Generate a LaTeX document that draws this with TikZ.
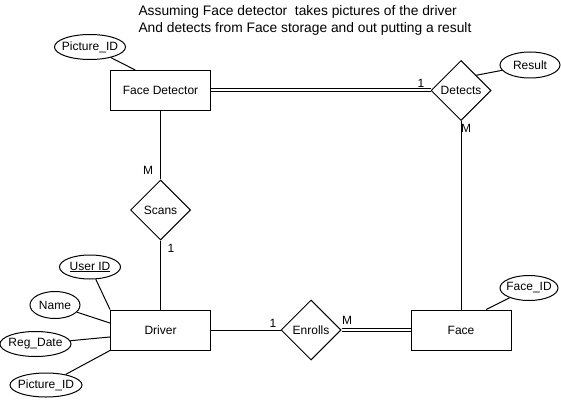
\documentclass[tikz,border=0pt]{standalone}
\usepackage{fontspec}
\setmainfont{Liberation Sans}
\usetikzlibrary{shapes.geometric,calc}
\begin{document}
\begin{tikzpicture}
  [x=1pt, y=-1pt, line width=1pt, font=\fontsize{12}{14}\selectfont,
   entity/.style={draw, rectangle, minimum width=100pt, minimum height=40pt, inner sep=0pt},
   relation/.style={draw, diamond, aspect=1, minimum width=60pt, minimum height=60pt, inner sep=0pt},
   attrib/.style={draw, ellipse, inner sep=0pt},
   card/.style={inner sep=0pt},
   twin/.style={double, double distance=2pt}]
  \useasboundingbox (0,0) rectangle (561,401);
  \node[anchor=north west, align=left, inner sep=0pt, font=\fontsize{13.8}{17}\selectfont] (note) at (138,5)
    {Assuming Face detector\ \ takes pictures of the driver\\And detects from Face storage and out putting a result};
  \node[entity] (fd) at (160.5,90.5) {Face Detector};
  \node[entity] (drv) at (160.5,330) {Driver};
  \node[entity] (face) at (461,330) {Face};
  \node[relation] (det) at (461,90.5) {Detects};
  \node[relation] (scn) at (160.5,210) {Scans};
  \node[relation] (enr) at (311,330) {Enrolls};
  \node[attrib, minimum width=71pt, minimum height=25pt, label=center:Picture\_ID] (fdpic) at (90,47) {};
  \node[attrib, minimum width=60pt, minimum height=26pt, label=center:Result] (res) at (530,65) {};
  \node[attrib, minimum width=58pt, minimum height=25pt, label=center:Face\_ID] (fid) at (529,288) {};
  \node[attrib, minimum width=61pt, minimum height=24pt, label=center:\underline{User ID}] (uid) at (90,267) {};
  \node[attrib, minimum width=50pt, minimum height=27pt, label=center:Name] (name) at (55,305) {};
  \node[attrib, minimum width=71pt, minimum height=25pt, label=center:Reg\_Date] (reg) at (35.5,344) {};
  \node[attrib, minimum width=72pt, minimum height=24pt, label=center:Picture\_ID] (drvpic) at (46,385) {};
  \draw[twin] (fd) -- (det);
  \draw (det) -- (face);
  \draw (fd) -- (scn);
  \draw (scn) -- (drv);
  \draw (drv) -- (enr);
  \draw[twin] (enr) -- (face);
  \draw (det.north east) -- (res);
  \draw (fdpic) -- ($(fd.north west)!0.25!(fd.north east)$);
  \draw (fid) -- ($(face.north west)!0.75!(face.north east)$);
  \draw (uid) -- (drv.north west);
  \draw (name) -- ($(drv.north west)!0.33!(drv.south west)$);
  \draw (reg) -- ($(drv.north west)!0.67!(drv.south west)$);
  \draw (drvpic) -- (drv.south west);
  \node[card] (c1) at (421,83) {1};
  \node[card] (c2) at (466,128) {M};
  \node[card] (c3) at (148,170) {M};
  \node[card] (c4) at (171,248) {1};
  \node[card] (c5) at (273,323) {1};
  \node[card] (c6) at (347,320) {M};
\end{tikzpicture}
\end{document}
